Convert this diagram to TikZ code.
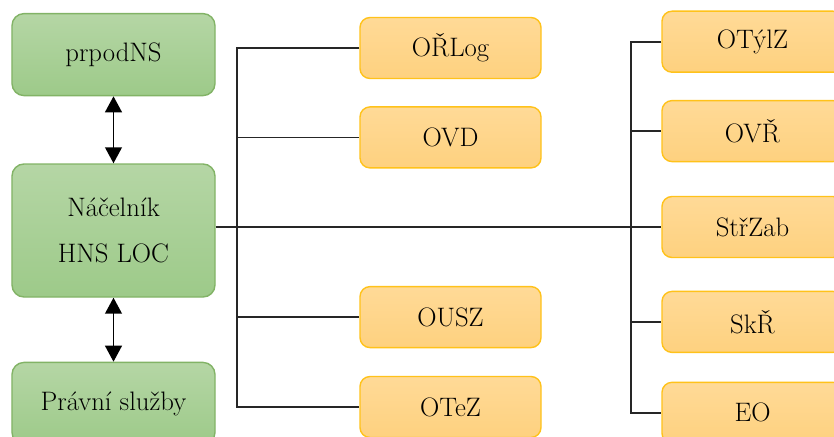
\documentclass[tikz,border=0pt]{standalone}
\usetikzlibrary{positioning,arrows.meta}

\definecolor{grtop}{HTML}{B5D6A5}
\definecolor{grbot}{HTML}{9DCA89}
\definecolor{grline}{HTML}{82B366}
\definecolor{ortop}{HTML}{FFDA97}
\definecolor{orbot}{HTML}{FED17F}
\definecolor{orline}{HTML}{FFC21A}

\tikzstyle{mainbox} = [rectangle, rounded corners=0.3cm, minimum width=5.075cm, minimum height=2.05cm, text centered, align=center, draw=grline, line width=1pt, top color=grtop, bottom color=grbot]
\tikzstyle{unitbox} = [rectangle, rounded corners=0.25cm, minimum width=4.525cm, minimum height=1.525cm, text centered, draw=orline, line width=1pt, top color=ortop, bottom color=orbot]
\tikzstyle{link} = [line width=1.2pt, black!85]
\tikzstyle{dblarrow} = [line width=1.2pt, {Triangle[width=0.42cm,length=0.4cm]}-{Triangle[width=0.42cm,length=0.4cm]}]

\begin{document}
\begin{tikzpicture}[font=\fontsize{19}{33}\selectfont]
  \useasboundingbox (-2.8375,5.7625) rectangle (18.0125,-5.1375);

  \node (hns) [mainbox, minimum height=3.325cm] at (0,0) {Náčelník\\HNS LOC};
  \node (prpod) [mainbox, above=1.675cm of hns] {prpodNS};
  \node (pravni) [mainbox, below=1.6cm of hns] {Právní služby};

  \node (orlog) [unitbox] at (8.425,4.5625) {OŘLog};
  \node (ovd) [unitbox, below=0.675cm of orlog] {OVD};
  \node (otez) [unitbox] at (8.425,-4.4125) {OTeZ};
  \node (ousz) [unitbox, above=0.6875cm of otez] {OUSZ};

  \node (strzab) [unitbox] at (15.975,0.0875) {StřZab};
  \node (ovr) [unitbox, above=0.8375cm of strzab] {OVŘ};
  \node (otylz) [unitbox, above=0.675cm of ovr] {OTýlZ};
  \node (skr) [unitbox, below=0.8125cm of strzab] {SkŘ};
  \node (eo) [unitbox, below=0.7125cm of skr] {EO};

  \coordinate (lbus) at (3.0875,0);
  \coordinate (rbus) at (12.9375,0);

  \draw [dblarrow] (prpod) -- (hns);
  \draw [dblarrow] (hns) -- (pravni);

  \draw [link] (hns.east |- strzab.west) -- (strzab.west);
  \draw [link] (orlog.west) -| (lbus) |- (otez.west);
  \draw [link] (lbus |- ovd.west) -- (ovd.west);
  \draw [link] (lbus |- ousz.west) -- (ousz.west);
  \draw [link] (otylz.west) -| (rbus) |- (eo.west);
  \draw [link] (rbus |- ovr.west) -- (ovr.west);
  \draw [link] (rbus |- skr.west) -- (skr.west);
\end{tikzpicture}
\end{document}
